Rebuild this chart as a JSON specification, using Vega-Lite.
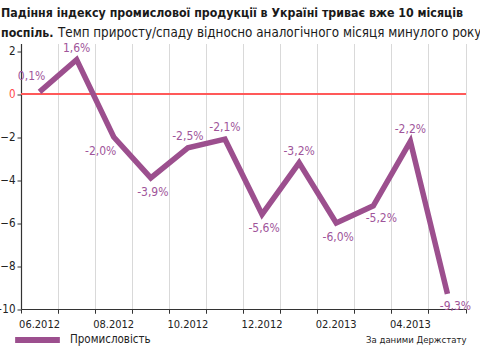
{
  "$schema": "https://vega.github.io/schema/vega-lite/v6.json",
  "autosize": {"type": "none"},
  "width": 445,
  "height": 265.5,
  "padding": {"left": 21, "top": 43.5, "right": 14, "bottom": 37},
  "background": "white",
  "config": {
    "view": {"stroke": null},
    "font": "DejaVu Sans Condensed, Liberation Sans, sans-serif",
    "legend": {"padding": 0}
  },
  "title": {
    "text": ["Падіння індексу промислової продукції в Україні триває вже 10 місяців", "поспіль."],
    "subtitle": "\u200b\u00a0\u00a0\u00a0\u00a0\u00a0\u00a0\u00a0\u00a0\u00a0\u00a0\u00a0\u00a0\u00a0\u00a0\u00a0Темп приросту/спаду відносно аналогічного місяця минулого року",
    "anchor": "start",
    "frame": "group",
    "dx": -20,
    "offset": 2,
    "font": "DejaVu Sans Condensed, Liberation Sans, sans-serif",
    "fontSize": 12.3,
    "fontWeight": "bold",
    "lineHeight": 20,
    "color": "#1a1a1a",
    "subtitleFont": "DejaVu Sans Condensed, Liberation Sans, sans-serif",
    "subtitleFontSize": 13.3,
    "subtitleFontWeight": "normal",
    "subtitleColor": "#1a1a1a",
    "subtitlePadding": -13
  },
  "data": {
    "values": [
      {"month": "06.2012", "value": 0.1, "label": "0,1%", "series": "Промисловість"},
      {"month": "07.2012", "value": 1.6, "label": "1,6%", "series": "Промисловість"},
      {"month": "08.2012", "value": -2.0, "label": "-2,0%", "series": "Промисловість"},
      {"month": "09.2012", "value": -3.9, "label": "-3,9%", "series": "Промисловість"},
      {"month": "10.2012", "value": -2.5, "label": "-2,5%", "series": "Промисловість"},
      {"month": "11.2012", "value": -2.1, "label": "-2,1%", "series": "Промисловість"},
      {"month": "12.2012", "value": -5.6, "label": "-5,6%", "series": "Промисловість"},
      {"month": "01.2013", "value": -3.2, "label": "-3,2%", "series": "Промисловість"},
      {"month": "02.2013", "value": -6.0, "label": "-6,0%", "series": "Промисловість"},
      {"month": "03.2013", "value": -5.2, "label": "-5,2%", "series": "Промисловість"},
      {"month": "04.2013", "value": -2.2, "label": "-2,2%", "series": "Промисловість"},
      {"month": "05.2013", "value": -9.3, "label": "-9,3%", "series": "Промисловість"}
    ]
  },
  "encoding": {
    "x": {
      "field": "month", "type": "ordinal", "sort": null,
      "scale": {"type": "band", "paddingInner": 0, "paddingOuter": 0,
        "domain": ["06.2012","07.2012","08.2012","09.2012","10.2012","11.2012","12.2012","01.2013","02.2013","03.2013","04.2013","05.2013"]},
      "axis": null
    },
    "y": {
      "field": "value", "type": "quantitative",
      "scale": {"domain": [-10, 2.35], "nice": false, "zero": false},
      "axis": {
        "title": null,
        "values": [2, 0, -2, -4, -6, -8, -10],
        "grid": false,
        "labelFontSize": 11.5,
        "labelColor": {"expr": "datum.value == 0 ? '#ff4b4b' : '#222'"},
        "labelPadding": 2,
        "tickSize": 4,
        "tickColor": "#333",
        "domainColor": "#333",
        "domainWidth": 1.2
      }
    }
  },
  "resolve": {"axis": {"x": "independent"}},
  "layer": [
    {
      "mark": {"type": "line", "opacity": 0},
      "encoding": {
        "x": {
          "field": "month", "type": "ordinal", "sort": null,
          "axis": {
            "orient": "bottom",
            "title": null,
            "bandPosition": 1,
            "labels": false,
            "domain": false,
            "grid": true,
            "gridColor": "#d9d9d9",
            "gridWidth": 1,
            "tickColor": "#333",
            "tickSize": 4
          }
        }
      }
    },
    {
      "mark": {"type": "rule", "color": "#ff5a5a", "strokeWidth": 1.5},
      "encoding": {"y": {"datum": 0}, "x": null}
    },
    {
      "mark": {"type": "line", "strokeWidth": 5.5, "strokeJoin": "miter", "strokeCap": "butt"},
      "encoding": {
        "x": {
          "field": "month", "type": "ordinal", "sort": null,
          "axis": {
            "orient": "bottom",
            "title": "За даними Держстату",
            "titleAnchor": "end",
            "titleFontSize": 9.5,
            "titleFontWeight": "normal",
            "titleColor": "#222",
            "titlePadding": 5,
            "bandPosition": 0,
            "labelAngle": 0,
            "labelDx": 18.5,
            "labelAlign": "center",
            "labelFontSize": 11,
            "labelColor": "#222",
            "labelPadding": 5,
            "labelExpr": "indexof(['06.2012','08.2012','10.2012','12.2012','02.2013','04.2013'], datum.value) >= 0 ? datum.value : ''",
            "grid": true,
            "gridColor": "#d9d9d9",
            "gridWidth": 1,
            "domainColor": "#333",
            "domainWidth": 1.2,
            "tickColor": "#333",
            "tickSize": 4
          }
        },
        "color": {"field": "series", "type": "nominal",
          "scale": {"range": ["#9c4f8e"]},
          "legend": {
            "title": null, "orient": "none", "legendX": -9, "legendY": 271,
            "symbolType": "stroke", "symbolSize": 2000, "symbolStrokeWidth": 6,
            "labelFontSize": 11.5, "labelColor": "#222", "labelOffset": 7
          }
        }
      }
    },
    {
      "transform": [{"filter": {"field": "month", "oneOf": ["07.2012", "10.2012", "11.2012", "01.2013", "04.2013"]}}],
      "mark": {"type": "text", "dy": -12, "fontSize": 12, "color": "#a0559a"},
      "encoding": {"text": {"field": "label"}}
    },
    {
      "transform": [{"filter": {"field": "month", "oneOf": ["06.2012"]}}],
      "mark": {"type": "text", "dx": -8, "dy": -16, "fontSize": 12, "color": "#a0559a"},
      "encoding": {"text": {"field": "label"}}
    },
    {
      "transform": [{"filter": {"field": "month", "oneOf": ["09.2012", "12.2012", "02.2013"]}}],
      "mark": {"type": "text", "dx": 2, "dy": 14, "fontSize": 12, "color": "#a0559a"},
      "encoding": {"text": {"field": "label"}}
    },
    {
      "transform": [{"filter": {"field": "month", "oneOf": ["08.2012"]}}],
      "mark": {"type": "text", "dx": -13, "dy": 14, "fontSize": 12, "color": "#a0559a"},
      "encoding": {"text": {"field": "label"}}
    },
    {
      "transform": [{"filter": {"field": "month", "oneOf": ["03.2013", "05.2013"]}}],
      "mark": {"type": "text", "dx": 8, "dy": 12, "fontSize": 12, "color": "#a0559a"},
      "encoding": {"text": {"field": "label"}}
    }
  ]
}
